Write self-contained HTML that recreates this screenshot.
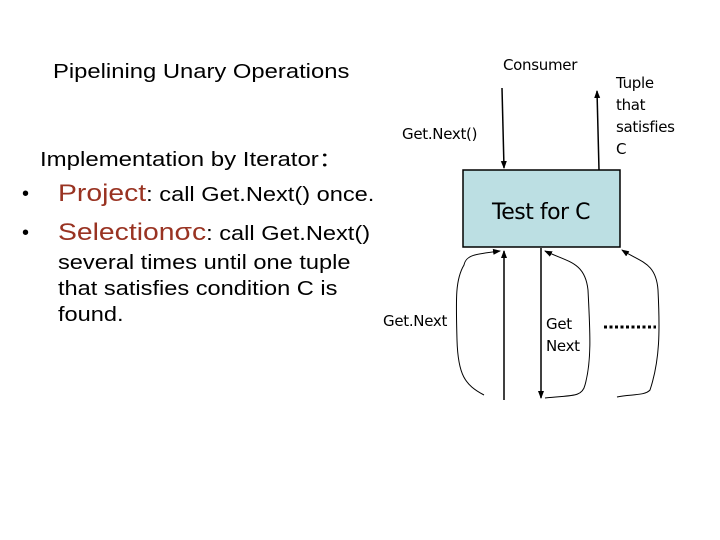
<!DOCTYPE html>
<html><head><style>
html,body{margin:0;padding:0;background:#fff;}
body{width:720px;height:540px;position:relative;overflow:hidden;font-family:"Liberation Sans",sans-serif;}
.t{position:absolute;white-space:nowrap;line-height:1;}
.s{transform:scaleX(1.18);transform-origin:0 0;}
.d{font-family:"DejaVu Sans","Liberation Sans",sans-serif;font-size:15px;letter-spacing:-0.3px;}
.r{color:#993322;font-size:24px;}
</style></head><body>
<div class="t s" style="left:53px;top:62px;font-size:20px;transform:scaleX(1.19);">Pipelining Unary Operations</div>
<div class="t s" style="left:40px;top:150px;font-size:20px;transform:scaleX(1.2);">Implementation by Iterator：</div>
<div class="t" style="left:22px;top:184px;font-size:20px;">•</div>
<div class="t s" style="left:58px;top:182px;font-size:20px;"><span class="r">Project</span>: call Get.Next() once.</div>
<div class="t" style="left:22px;top:223px;font-size:20px;">•</div>
<div class="t s" style="left:58px;top:221px;font-size:20px;"><span class="r">Selectionσc</span>: call Get.Next()</div>
<div class="t s" style="left:58px;top:250px;font-size:20px;line-height:26px;">several times until one tuple<br>that satisfies condition C is<br>found.</div>

<div class="t d" style="left:503px;top:58px;">Consumer</div>
<div class="t d" style="left:402px;top:127px;">Get.Next()</div>
<div class="t d" style="left:616px;top:72px;line-height:22px;">Tuple<br>that<br>satisfies<br>C</div>
<div class="t d" style="left:383px;top:314px;">Get.Next</div>
<div class="t d" style="left:546px;top:313px;line-height:22px;">Get<br>Next</div>

<svg width="720" height="540" style="position:absolute;left:0;top:0">
<defs><marker id="a" markerWidth="8" markerHeight="8" refX="7" refY="4" orient="auto" markerUnits="userSpaceOnUse"><path d="M0,1 L8,4 L0,7 Z" fill="#000"/></marker></defs>
<rect x="463" y="170" width="157" height="77" fill="#bcdfe3" stroke="#000" stroke-width="1.5"/>
<text x="541" y="219" font-family="DejaVu Sans,sans-serif" font-size="22" text-anchor="middle" letter-spacing="-0.5">Test for C</text>
<g stroke="#000" fill="none">
<line x1="502" y1="88" x2="504" y2="168" stroke-width="1.5" marker-end="url(#a)"/>
<line x1="599" y1="170" x2="597" y2="91" stroke-width="1.5" marker-end="url(#a)"/>
<line x1="504" y1="400" x2="504" y2="251" stroke-width="1.5" marker-end="url(#a)"/>
<line x1="541" y1="248" x2="541" y2="398" stroke-width="1.5" marker-end="url(#a)"/>
<path d="M484,395 C465,385 458,375 457,340 C456,300 455,280 464,265 C466,255 475,254 500,251" stroke-width="1" marker-end="url(#a)"/>
<path d="M545,398 C570,395 582,398 585,385 C592,360 590,330 588,290 C585,262 568,262 545,251" stroke-width="1" marker-end="url(#a)"/>
<path d="M617,397 C630,394 645,396 650,390 C660,360 660,330 658,290 C656,262 640,262 622,250" stroke-width="1" marker-end="url(#a)"/>
</g>
<line x1="604" y1="327" x2="656" y2="327" stroke="#000" stroke-width="3" stroke-dasharray="3,2.5"/>
</svg>
</body></html>
